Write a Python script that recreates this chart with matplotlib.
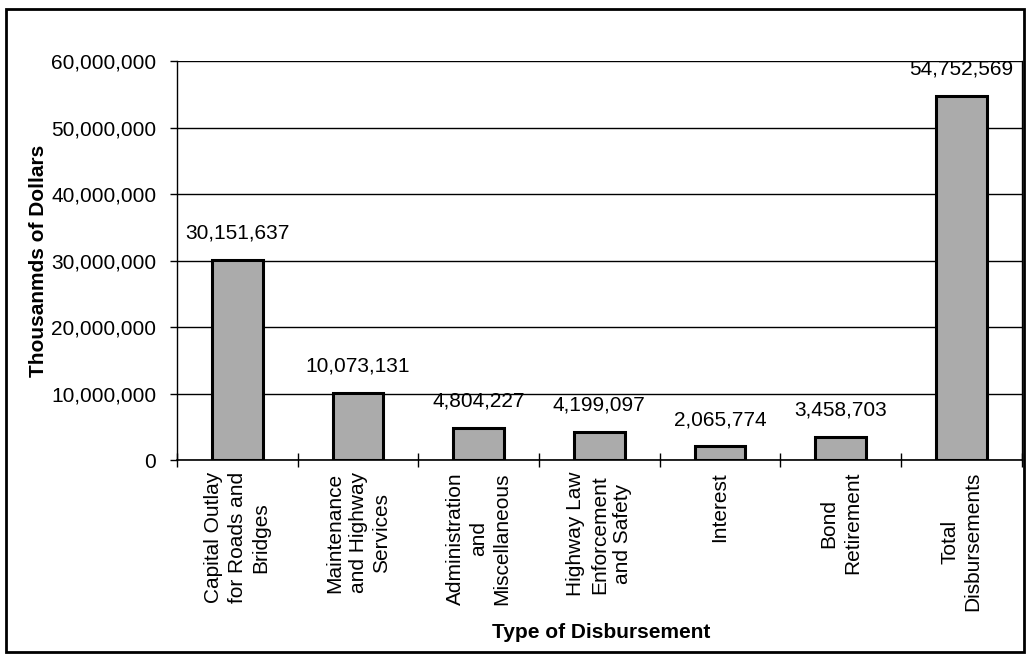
import matplotlib
matplotlib.use("Agg")
import matplotlib.pyplot as plt
from matplotlib.patches import Rectangle
from matplotlib.ticker import FuncFormatter, MultipleLocator

plt.rcParams['font.family'] = ['Liberation Sans', 'DejaVu Sans']

categories = ["Capital Outlay\nfor Roads and\nBridges",
              "Maintenance\nand Highway\nServices",
              "Administration\nand\nMiscellaneous",
              "Highway Law\nEnforcement\nand Safety",
              "Interest",
              "Bond\nRetirement",
              "Total\nDisbursements"]
values = [30151637, 10073131, 4804227, 4199097, 2065774, 3458703, 54752569]

fig = plt.figure(figsize=(10.31, 6.54), dpi=100)
ax = fig.add_axes([0.1717, 0.2966, 0.8193, 0.61])

x = list(range(len(values)))
ax.bar(x, values, width=0.42, color='#ababab', edgecolor='black', linewidth=2.2, zorder=3)
for xi, v in zip(x, values):
    ax.text(xi, v + 2600000, f"{v:,}", ha='center', va='bottom', fontsize=15, zorder=4)

ax.set_xlim(-0.5, len(values) - 0.5)
ax.set_ylim(0, 60000000)
ax.yaxis.set_major_locator(MultipleLocator(10000000))
ax.yaxis.set_major_formatter(FuncFormatter(lambda v, p: f"{int(v):,}"))
ax.grid(axis='y', color='black', linewidth=1, zorder=0)

ax.set_xticks([i - 0.5 for i in range(len(values) + 1)])
ax.set_xticklabels([])
ax.tick_params(axis='x', direction='inout', length=10, width=1)
ax.tick_params(axis='y', direction='out', length=5, width=1, labelsize=15, pad=10)
for xi, lab in zip(x, categories):
    ax.text(xi, -0.03, lab, transform=ax.get_xaxis_transform(), rotation=90,
            ha='center', va='top', multialignment='center', fontsize=15,
            linespacing=1.3)

ax.spines['top'].set_visible(False)
ax.spines['right'].set_linewidth(1)
ax.spines['left'].set_linewidth(1)
ax.spines['bottom'].set_linewidth(1.2)

ax.set_ylabel("Thousanmds of Dollars", fontsize=15, fontweight='bold', labelpad=2)
fig.text(0.583, 1 - 632 / 654, "Type of Disbursement", ha='center', va='center',
         fontsize=15, fontweight='bold')

fig.patches.append(Rectangle((6 / 1031, 2 / 654), 1018 / 1031, 643 / 654,
                             transform=fig.transFigure, fill=False,
                             edgecolor='black', linewidth=2))

fig.savefig("out.png", dpi=100)
